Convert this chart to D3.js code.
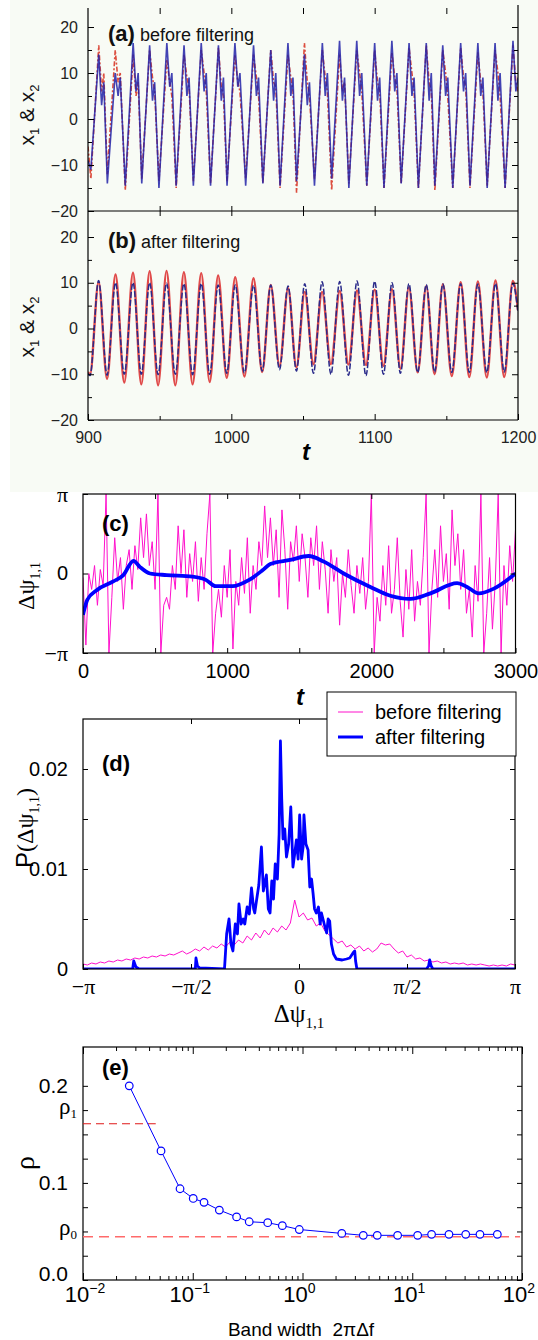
<!DOCTYPE html>
<html><head><meta charset="utf-8">
<script src="https://cdn.jsdelivr.net/npm/d3@7"></script>
<style>body{margin:0;background:#fff}svg{display:block}</style>
</head><body>
<svg id="chart" width="538" height="1340"></svg>
<script>
// ---------- DATA ----------
// (a) before filtering: time grid and x1 (blue solid), x2 (red dashed)
const tA = [900, 902,907.5,909.5,911, 913.5,919,921,922.5, 926,931.5,933.5,935, 937.5,943,945,946.5, 949.5,955,957,958.5, 961.5,967,969,970.5, 973.5,979,981,982.5, 985.5,991,993,994.5, 997,1002.5,1004.5,1006, 1010,1015.5,1017.5,1019, 1022,1027.5,1029.5,1031, 1034,1039.5,1041.5,1043, 1045.5,1051,1053,1054.5, 1058,1063.5,1065.5,1067, 1070,1075.5,1077.5,1079, 1082,1087.5,1089.5,1091, 1094.5,1100,1102,1103.5, 1106.5,1112,1114,1115.5, 1118.5,1124,1126,1127.5, 1130.5,1136,1138,1139.5, 1142,1147.5,1149.5,1151, 1154.5,1160,1162,1163.5, 1166.5,1172,1174,1175.5, 1178.5,1184,1186,1187.5, 1191,1196.5,1198.5,1200];
const x1A = [-9, -11,14,3,8, -14,10,5,9, -14.5,16.5,6,10, -14,16,4,8, -15,16.5,7,10, -14.5,16,5,9, -14.5,16.5,6,10, -14.5,16,4,9, -14.5,16.5,7,10, -14.5,16,5,9, -14,15,4,10, -14.5,16.5,5,9, -13.5,14,3,8, -14.5,16.5,5,10, -13,17,4,9, -15,17,5,10, -14.5,16.5,4,9, -15,17,6,10, -14,16.5,5,9, -15,16.5,4,10, -14.5,16,5,9, -15,16.5,6,10, -14.5,16.5,5,9, -15,16.5,4,10, -15,17,6,9];
const x2A = [-6, -13,16,6,10, -12,15,8,10, -15.5,14,5,8, -13,15,9,6, -13.5,13,8,5, -15,14,9,7, -13.5,15,10,6, -14,15.5,7,5, -13.5,14,8,6, -13,14,9,5, -14,15,8,7, -15,14,9,6, -16,16.5,8,5, -13,15,9,6, -15.5,14,6,8, -14,15,10,6, -14.5,15,8,6, -15,14.5,9,7, -14,15.5,10,6, -15,16,8,6, -15.5,15,10,5, -15,15.5,9,7, -15,14.5,8,6, -14.5,15,10,5, -15,16,8,6];

// (b) after filtering: extrema times and values
const tB = [900,901.4,907.4,913.3,919.2,925.3,931.4,937.2,943,948.9,954.8,960.9,966.9,973,979,984.9,990.8,996.8,1002.7,1009.1,1015.5,1021.5,1027.5,1033.6,1039.6,1045.4,1051.2,1057.3,1063.3,1069.5,1075.6,1081.7,1087.7,1093.9,1100,1106.1,1112.1,1118,1123.9,1130,1136,1141.8,1147.6,1153.8,1160,1166,1172,1178.2,1184.3,1190.4,1196.4,1200];
const x1B = [-9.8,-10.3,10.5,-10.2,10.0,-10.0,10.0,-10.0,10.0,-10.1,9.9,-10.0,9.8,-10.1,9.8,-10.0,9.5,-9.8,9.5,-9.7,9.4,-9.3,9.5,-9.0,9.3,-9.3,9.8,-9.8,10.2,-10.0,10.3,-10.2,10.4,-10.3,10.3,-10.0,10.0,-9.8,9.8,-9.6,9.6,-9.5,9.7,-9.6,9.8,-9.6,9.7,-9.6,9.8,-9.5,9.9,3.5];
const x2B = [-9.5,-10.0,10.2,-11.0,11.8,-11.8,12.2,-12.2,12.5,-12.4,12.6,-12.4,12.3,-12.2,12.1,-11.7,11.6,-10.8,11.2,-10.5,11.0,-9.5,9.5,-8.2,8.8,-8.5,8.0,-7.8,8.0,-7.8,8.2,-7.9,8.3,-8.0,8.5,-8.2,8.6,-8.8,9.0,-9.6,9.3,-10.0,9.7,-10.4,10.1,-10.6,10.3,-10.7,10.5,-10.6,10.4,4.0];

// (c) phase difference (units of pi); before filtering sampled every 20 time units
const cStep = 20;
const cBefore = [
 -0.05,-0.9,0.0,-0.2,0.1,-0.4,0.05,-0.15,1.0,-1.0,
 -0.3,0.45,-0.1,0.2,-0.45,0.1,0.3,-0.2,0.35,0.05,
 0.7,0.2,0.75,0.1,0.4,-0.2,1.0,-1.0,-0.4,-0.3,
 -0.45,0.1,-0.2,0.6,0.0,0.55,-0.3,0.25,-0.1,0.4,
 -0.35,0.2,-0.2,0.5,1.0,-1.0,-0.5,-0.2,-0.55,0.1,
 -0.3,0.3,-0.95,-0.1,-0.4,0.2,-0.25,0.45,-0.5,0.1,
 -0.2,0.4,0.1,0.85,0.2,0.7,0.1,0.55,-0.3,0.8,
 0.3,-0.45,0.4,0.15,0.6,-0.1,0.5,0.2,-0.3,0.45,
 0.1,0.6,-0.2,0.4,0.05,-0.5,0.3,-0.1,0.2,-0.65,
 0.0,-0.3,0.3,-0.15,-0.5,0.1,-0.25,0.2,-0.45,-0.1,
 1.0,-1.0,-0.3,-0.6,0.1,-0.4,0.35,-0.5,-0.2,0.45,
 -0.35,-0.8,0.05,-0.45,0.3,-0.6,-0.1,-0.4,0.2,1.0,
 -1.0,-0.2,0.3,-0.3,0.6,-0.1,0.25,-0.45,0.8,0.1,
 0.5,-0.2,0.3,-0.5,-0.2,-0.8,0.1,-0.35,1.0,-1.0,
 -0.5,0.2,-0.7,-0.1,1.0,-1.0,0.1,-0.4,0.35,-0.1,
 0.55];
const cAfterT = [0,30,95,210,280,350,396,465,580,760,852,921,1037,1153,1245,1299,1437,1565,1669,1808,1993,2132,2271,2410,2595,2664,2745,2850,3000];
const cAfterV = [-0.52,-0.33,-0.21,-0.10,-0.02,0.16,0.08,0.0,-0.02,-0.04,-0.08,-0.16,-0.16,-0.08,0.04,0.12,0.17,0.22,0.15,0.0,-0.17,-0.28,-0.32,-0.25,-0.12,-0.17,-0.25,-0.19,0.0];

// (d) distribution P(dpsi), P in units of 1e-3, dpsi in units of pi
const dStep = 0.02;
const dBefore = [
 0.5,0.4,0.6,0.5,0.7,0.6,0.8,0.7,0.9,0.8,1.0,0.9,1.1,1.0,1.2,1.1,1.3,1.2,1.4,1.3,1.5,1.4,1.6,1.8,1.5,
 1.7,2.0,1.8,2.2,1.9,2.3,2.1,2.5,2.2,2.7,2.4,2.9,2.6,3.3,2.9,3.6,3.1,3.9,3.4,4.1,3.7,4.3,3.9,4.6,6.9,
 5.2,5.6,4.9,5.1,4.3,4.6,3.8,3.4,3.0,2.6,2.8,2.2,2.4,2.0,2.3,1.8,2.1,1.7,2.0,2.6,2.4,2.5,2.0,1.6,1.8,
 1.2,1.4,1.0,1.1,0.8,0.9,0.7,0.8,0.6,0.7,0.5,0.6,0.5,0.6,0.4,0.5,0.4,0.5,0.4,0.3,0.4,0.3,0.4,0.3,0.5,0.4];
const dAfterX = [-1.00,-0.77,-0.765,-0.755,-0.74,-0.48,-0.477,-0.47,-0.46,-0.345,-0.335,-0.324,-0.315,-0.306,-0.295,-0.285,-0.278,-0.268,-0.258,-0.251,-0.24,-0.23,-0.22,-0.21,-0.205,-0.197,-0.186,-0.174,-0.165,-0.151,-0.142,-0.134,-0.126,-0.118,-0.11,-0.1,-0.092,-0.086,-0.08,-0.074,-0.066,-0.058,-0.048,-0.038,-0.028,-0.02,-0.012,-0.004,0.003,0.012,0.019,0.023,0.032,0.042,0.05,0.058,0.065,0.072,0.08,0.09,0.098,0.104,0.111,0.119,0.128,0.135,0.142,0.15,0.16,0.173,0.2,0.22,0.235,0.25,0.258,0.262,0.268,0.59,0.6,0.605,0.612,0.62,1.0];
const dAfterP = [0,0,0.8,0.2,0,0,1.1,0.3,0.1,0,3.5,5.0,2.5,1.8,4.5,3.5,6.5,4.5,5.0,4.5,6.2,5.5,8.1,6.0,5.6,6.8,8.4,12.2,7.8,9.4,6.0,5.6,8.8,7.0,10.5,9.0,13.5,22.8,17.0,13.0,14.0,11.2,12.5,16.2,10.2,11.5,12.9,11.0,15.4,11.0,12.2,15.4,12.5,11.9,8.2,9.0,7.6,6.0,5.6,6.2,4.5,5.6,5.0,4.3,3.6,5.0,4.8,2.5,1.5,1.0,0.9,1.0,1.1,1.6,1.8,0.8,0,0,0.3,0.9,0.3,0,0];

// (e) rho vs band width
const bandWidth = [0.0264,0.0514,0.0766,0.101,0.1267,0.1747,0.251,0.327,0.482,0.655,0.935,2.28,3.58,4.80,7.36,11.2,15.0,21.6,30.7,41.4,59.6];
const rho = [0.200,0.133,0.094,0.084,0.080,0.072,0.065,0.060,0.059,0.056,0.052,0.048,0.046,0.046,0.046,0.046,0.047,0.047,0.047,0.047,0.047];
const rho1 = 0.161, rho0 = 0.0446;

// ---------- DRAWING ----------
const SANS = '"Liberation Sans", Arial, Helvetica, sans-serif';
const SERIF = '"Liberation Serif", "Times New Roman", serif';
const svg = d3.select('#chart');
const defs = svg.append('defs');
function clip(id, x, y, w, h) { defs.append('clipPath').attr('id', id).append('rect').attr('x', x).attr('y', y).attr('width', w).attr('height', h); }
function axis(gen, tx, ty, size, family, color) {
  const g = svg.append('g').attr('transform', `translate(${tx},${ty})`).call(gen);
  g.select('.domain').remove();
  g.attr('font-family', family || SANS).attr('font-size', size || 16);
  g.selectAll('.tick line').attr('stroke', '#000');
  g.selectAll('.tick text').attr('fill', color || '#000');
  return g;
}
function hline(x1, x2, y, w) { svg.append('line').attr('x1', x1).attr('x2', x2).attr('y1', y).attr('y2', y).attr('stroke', '#000').attr('stroke-width', w || 1.2); }
function vline(x, y1, y2, w) { svg.append('line').attr('x1', x).attr('x2', x).attr('y1', y1).attr('y2', y2).attr('stroke', '#000').attr('stroke-width', w || 1.2); }
function label(x, y, parts, opts) {
  const t = svg.append('text').attr('x', x).attr('y', y).attr('font-family', (opts && opts.family) || SANS)
    .attr('text-anchor', (opts && opts.anchor) || 'start').attr('fill', (opts && opts.fill) || '#000')
    .style('white-space', 'pre');
  if (opts && opts.rotate) t.attr('transform', `rotate(${opts.rotate},${x},${y})`);
  parts.forEach(p => {
    const s = t.append('tspan').text(p.t).attr('font-size', p.size);
    if (p.family) s.attr('font-family', p.family);
    if (p.weight) s.attr('font-weight', p.weight);
    if (p.style) s.attr('font-style', p.style);
    if (p.dy) s.attr('dy', p.dy);
  });
  return t;
}
const intFmt = d3.format('d');

// background of the top (scanned) figure
svg.append('rect').attr('x', 10).attr('y', 0).attr('width', 528).attr('height', 492).attr('fill', '#f8fbf5');

// ----- panels (a) & (b)
const xAB = d3.scaleLinear().domain([900, 1200]).range([88, 518]);
const yA = d3.scaleLinear().domain([-20, 20]).range([211, 27]);
const yB = d3.scaleLinear().domain([-20, 20]).range([420, 237]);
clip('clipA', 88, 4, 430, 207);
clip('clipB', 88, 211, 430, 209);

const lineA = d3.line().x((d, i) => xAB(tA[i])).y(d => yA(d));
svg.append('path').attr('clip-path', 'url(#clipA)').attr('d', lineA(x2A)).attr('fill', 'none')
  .attr('stroke', '#d83a2a').attr('stroke-width', 1.6).attr('stroke-dasharray', '5,2,2,2').attr('opacity', 0.9);
svg.append('path').attr('clip-path', 'url(#clipA)').attr('d', lineA(x1A)).attr('fill', 'none')
  .attr('stroke', '#2222a8').attr('stroke-width', 1.6).attr('opacity', 0.85);

const lineB = d3.line().curve(d3.curveMonotoneX).x((d, i) => xAB(tB[i])).y(d => yB(d));
svg.append('path').attr('clip-path', 'url(#clipB)').attr('d', lineB(x2B)).attr('fill', 'none')
  .attr('stroke', '#e04a4a').attr('stroke-width', 2.4);
svg.append('path').attr('clip-path', 'url(#clipB)').attr('d', lineB(x1B)).attr('fill', 'none')
  .attr('stroke', '#2a2a8a').attr('stroke-width', 1.5).attr('stroke-dasharray', '6,2');

// frame a/b
vline(88, 8, 420); vline(518, 5, 420); hline(88, 518, 211); hline(88, 518, 420);
[[yA], [yB]].forEach(([ys]) => {
  axis(d3.axisLeft(ys).tickValues([-20, -10, 0, 10, 20]).tickSize(-6).tickPadding(10), 88, 0, 16, SANS, '#222');
  axis(d3.axisLeft(ys).tickValues([-15, -5, 5, 15]).tickSize(-4).tickFormat(''), 88, 0);
  axis(d3.axisRight(ys).tickValues([-10, 0, 10, 20]).tickSize(-6).tickFormat(''), 518, 0);
  axis(d3.axisRight(ys).tickValues([-15, -5, 5, 15]).tickSize(-4).tickFormat(''), 518, 0);
});
axis(d3.axisBottom(xAB).tickValues([950, 1000, 1050, 1100, 1150]).tickSize(6).tickFormat(''), 0, 8);
axis(d3.axisBottom(xAB).tickValues([950, 1000, 1050, 1100, 1150]).tickSize(5).tickFormat(''), 0, 211);
axis(d3.axisBottom(xAB).tickValues([950, 1000, 1050, 1100, 1150]).tickSize(-5).tickFormat(''), 0, 211);
axis(d3.axisBottom(xAB).tickValues([900, 1000, 1100, 1200]).tickSize(-6).tickPadding(12).tickFormat(intFmt), 0, 420, 16, SANS, '#222');
axis(d3.axisBottom(xAB).tickValues([950, 1050, 1150]).tickSize(-4).tickFormat(''), 0, 420);

label(108, 41, [{t: '(a)', size: 22, weight: 'bold'}, {t: ' before filtering', size: 18}], {fill: '#111'});
label(108, 248, [{t: '(b)', size: 22, weight: 'bold'}, {t: ' after filtering', size: 18}], {fill: '#111'});
[115, 327].forEach(cy => {
  label(34, cy, [{t: 'x', size: 21}, {t: '1', size: 13, dy: 5}, {t: ' & x', size: 21, dy: -5}, {t: '2', size: 13, dy: 5}],
    {anchor: 'middle', rotate: -90, fill: '#111'});
});
label(306, 460, [{t: 't', size: 24, weight: 'bold', style: 'italic'}], {anchor: 'middle'});

// ----- panel (c)
const xC = d3.scaleLinear().domain([0, 3000]).range([83, 515.5]);
const yC = d3.scaleLinear().domain([-1, 1]).range([653, 494]);
clip('clipC', 83, 494, 432.5, 159);
svg.append('path').attr('clip-path', 'url(#clipC)').attr('fill', 'none').attr('stroke', '#ff10cc').attr('stroke-width', 1)
  .attr('d', d3.line().x((d, i) => xC(i * cStep)).y(d => yC(d))(cBefore));
svg.append('path').attr('clip-path', 'url(#clipC)').attr('fill', 'none').attr('stroke', '#0000ff').attr('stroke-width', 3.8)
  .attr('d', d3.line().curve(d3.curveMonotoneX).x((d, i) => xC(cAfterT[i])).y(d => yC(d))(cAfterV));
svg.append('rect').attr('x', 83).attr('y', 494).attr('width', 432.5).attr('height', 159).attr('fill', 'none').attr('stroke', '#000').attr('stroke-width', 1.2);
axis(d3.axisBottom(xC).tickValues([0, 500, 1000, 1500, 2000, 2500, 3000]).tickSize(-5).tickPadding(11)
  .tickFormat(d => d % 1000 === 0 ? intFmt(d) : ''), 0, 653, 20);
axis(d3.axisTop(xC).tickValues([500, 1000, 1500, 2000, 2500]).tickSize(-5).tickFormat(''), 0, 494);
const gcl = axis(d3.axisLeft(yC).tickValues([-1, 0, 1]).tickSize(-5).tickPadding(15)
  .tickFormat(d => d === 1 ? 'π' : d === -1 ? '−π' : '0'), 83, 0, 21, SERIF);
gcl.selectAll('.tick text').attr('font-family', d => d === 0 ? SANS : SERIF).attr('font-size', d => d === 0 ? 20 : 22);
axis(d3.axisRight(yC).tickValues([0]).tickSize(-5).tickFormat(''), 515.5, 0);
label(102, 531, [{t: '(c)', size: 22, weight: 'bold'}]);
label(34, 586, [{t: 'Δψ', size: 24, family: SERIF}, {t: '1,1', size: 14, dy: 6, family: SERIF}], {anchor: 'middle', rotate: -90});
label(300, 705, [{t: 't', size: 24, weight: 'bold', style: 'italic'}], {anchor: 'middle'});

// ----- panel (d)
const xD = d3.scaleLinear().domain([-1, 1]).range([83, 515]);
const yD = d3.scaleLinear().domain([0, 25]).range([969, 719]);
clip('clipD', 83, 719, 432, 250);
svg.append('path').attr('clip-path', 'url(#clipD)').attr('fill', 'none').attr('stroke', '#ff10cc').attr('stroke-width', 1)
  .attr('d', d3.line().x((d, i) => xD(-1 + i * dStep)).y(d => yD(d))(dBefore));
svg.append('path').attr('clip-path', 'url(#clipD)').attr('fill', 'none').attr('stroke', '#0000ff').attr('stroke-width', 2.8)
  .attr('stroke-linejoin', 'round')
  .attr('d', d3.line().x((d, i) => xD(dAfterX[i])).y(d => yD(d))(dAfterP));
svg.append('rect').attr('x', 83).attr('y', 719).attr('width', 432).attr('height', 250).attr('fill', 'none').attr('stroke', '#000').attr('stroke-width', 1.2);
const piLab = {'-1': '−π', '-0.5': '−π/2', '0': '0', '0.5': 'π/2', '1': 'π'};
axis(d3.axisBottom(xD).tickValues([-1, -0.5, 0, 0.5, 1]).tickSize(-5).tickPadding(9).tickFormat(d => piLab[String(d)]), 0, 969, 22, SERIF);
axis(d3.axisTop(xD).tickValues([-0.5, 0, 0.5]).tickSize(-5).tickFormat(''), 0, 719);
axis(d3.axisLeft(yD).tickValues([0, 5, 10, 15, 20]).tickSize(-5).tickPadding(15)
  .tickFormat(d => d === 0 ? '0' : d === 10 ? '0.01' : d === 20 ? '0.02' : ''), 83, 0, 20);
axis(d3.axisRight(yD).tickValues([5, 10, 15, 20]).tickSize(-5).tickFormat(''), 515, 0);
label(102, 771, [{t: '(d)', size: 22, weight: 'bold'}]);
label(33, 828, [{t: 'P', size: 24, family: SANS}, {t: '(Δψ', size: 24, family: SERIF}, {t: '1,1', size: 14, dy: 6, family: SERIF}, {t: ')', size: 24, dy: -6, family: SERIF}],
  {anchor: 'middle', rotate: -90});
label(299, 1022, [{t: 'Δψ', size: 25, family: SERIF}, {t: '1,1', size: 15, dy: 6, family: SERIF}], {anchor: 'middle'});
// legend
svg.append('rect').attr('x', 327).attr('y', 692).attr('width', 189).attr('height', 64).attr('fill', '#fff').attr('stroke', '#000').attr('stroke-width', 1);
svg.append('line').attr('x1', 338).attr('x2', 363).attr('y1', 712).attr('y2', 712).attr('stroke', '#ff10cc').attr('stroke-width', 1);
svg.append('line').attr('x1', 338).attr('x2', 363).attr('y1', 737).attr('y2', 737).attr('stroke', '#0000ff').attr('stroke-width', 3);
label(375, 719, [{t: 'before filtering', size: 20}]);
label(375, 744, [{t: 'after filtering', size: 20}]);

// ----- panel (e)
const xE = d3.scaleLog().domain([0.01, 100]).range([83, 522]);
const yE = d3.scaleLinear().domain([0, 0.24]).range([1280, 1047]);
svg.append('rect').attr('x', 83).attr('y', 1047).attr('width', 439).attr('height', 233).attr('fill', 'none').attr('stroke', '#000').attr('stroke-width', 1.2);
const allLog = xE.ticks();
const majors = allLog.filter(v => Math.abs(Math.log10(v) - Math.round(Math.log10(v))) < 1e-9);
const minors = allLog.filter(v => !majors.includes(v));
axis(d3.axisBottom(xE).tickValues(majors).tickSize(-7).tickFormat(''), 0, 1280);
axis(d3.axisBottom(xE).tickValues(minors).tickSize(-4).tickFormat(''), 0, 1280);
axis(d3.axisTop(xE).tickValues(majors).tickSize(-7).tickFormat(''), 0, 1047);
axis(d3.axisTop(xE).tickValues(minors).tickSize(-4).tickFormat(''), 0, 1047);
const yEt = d3.range(0, 9).map(i => i * 0.025);
const gel = axis(d3.axisLeft(yE).tickValues(yEt).tickSize(-5).tickPadding(15)
  .tickFormat(d => Math.abs(d) < 1e-9 ? '0.0' : Math.abs(d - 0.1) < 1e-9 ? '0.1' : Math.abs(d - 0.2) < 1e-9 ? '0.2' : ''), 83, 0, 21);
gel.selectAll('.tick text').filter(d => Math.abs(d) < 1e-9).attr('dy', '0.0em');
axis(d3.axisRight(yE).tickValues(yEt).tickSize(-5).tickFormat(''), 522, 0);
majors.forEach(v => {
  const e = Math.round(Math.log10(v));
  label(xE(v) + (e === -2 ? 2 : -3), 1302, [{t: '10', size: 22}, {t: e < 0 ? '−' + (-e) : String(e), size: 14, dy: -9}], {anchor: 'middle'});
});
label(77, yE(0.175) + 4, [{t: 'ρ', size: 23, family: SERIF}, {t: '1', size: 13, dy: 4, family: SERIF}], {anchor: 'end'});
label(77, yE(0.05) + 4, [{t: 'ρ', size: 23, family: SERIF}, {t: '0', size: 13, dy: 4, family: SERIF}], {anchor: 'end'});
svg.append('line').attr('x1', xE(0.01)).attr('x2', xE(0.046)).attr('y1', yE(rho1)).attr('y2', yE(rho1))
  .attr('stroke', '#e01818').attr('stroke-width', 1.1).attr('stroke-dasharray', '8,5');
svg.append('line').attr('x1', xE(0.01)).attr('x2', 520).attr('y1', yE(rho0)).attr('y2', yE(rho0))
  .attr('stroke', '#ff6a6a').attr('stroke-width', 1.6).attr('stroke-dasharray', '10,6');
svg.append('path').attr('fill', 'none').attr('stroke', '#0000ff').attr('stroke-width', 1)
  .attr('d', d3.line().x((d, i) => xE(bandWidth[i])).y(d => yE(d))(rho));
svg.selectAll('circle.rho').data(rho).enter().append('circle').attr('class', 'rho')
  .attr('cx', (d, i) => xE(bandWidth[i])).attr('cy', d => yE(d)).attr('r', 3.8)
  .attr('fill', '#fff').attr('stroke', '#0000ff').attr('stroke-width', 1.2);
label(102, 1075, [{t: '(e)', size: 22, weight: 'bold'}]);
label(34, 1163, [{t: 'ρ', size: 28, family: SERIF}], {anchor: 'middle', rotate: -90});
label(301, 1336, [{t: 'Band width\u00a0\u00a02πΔf', size: 19}], {anchor: 'middle'});
</script>
</body></html>
